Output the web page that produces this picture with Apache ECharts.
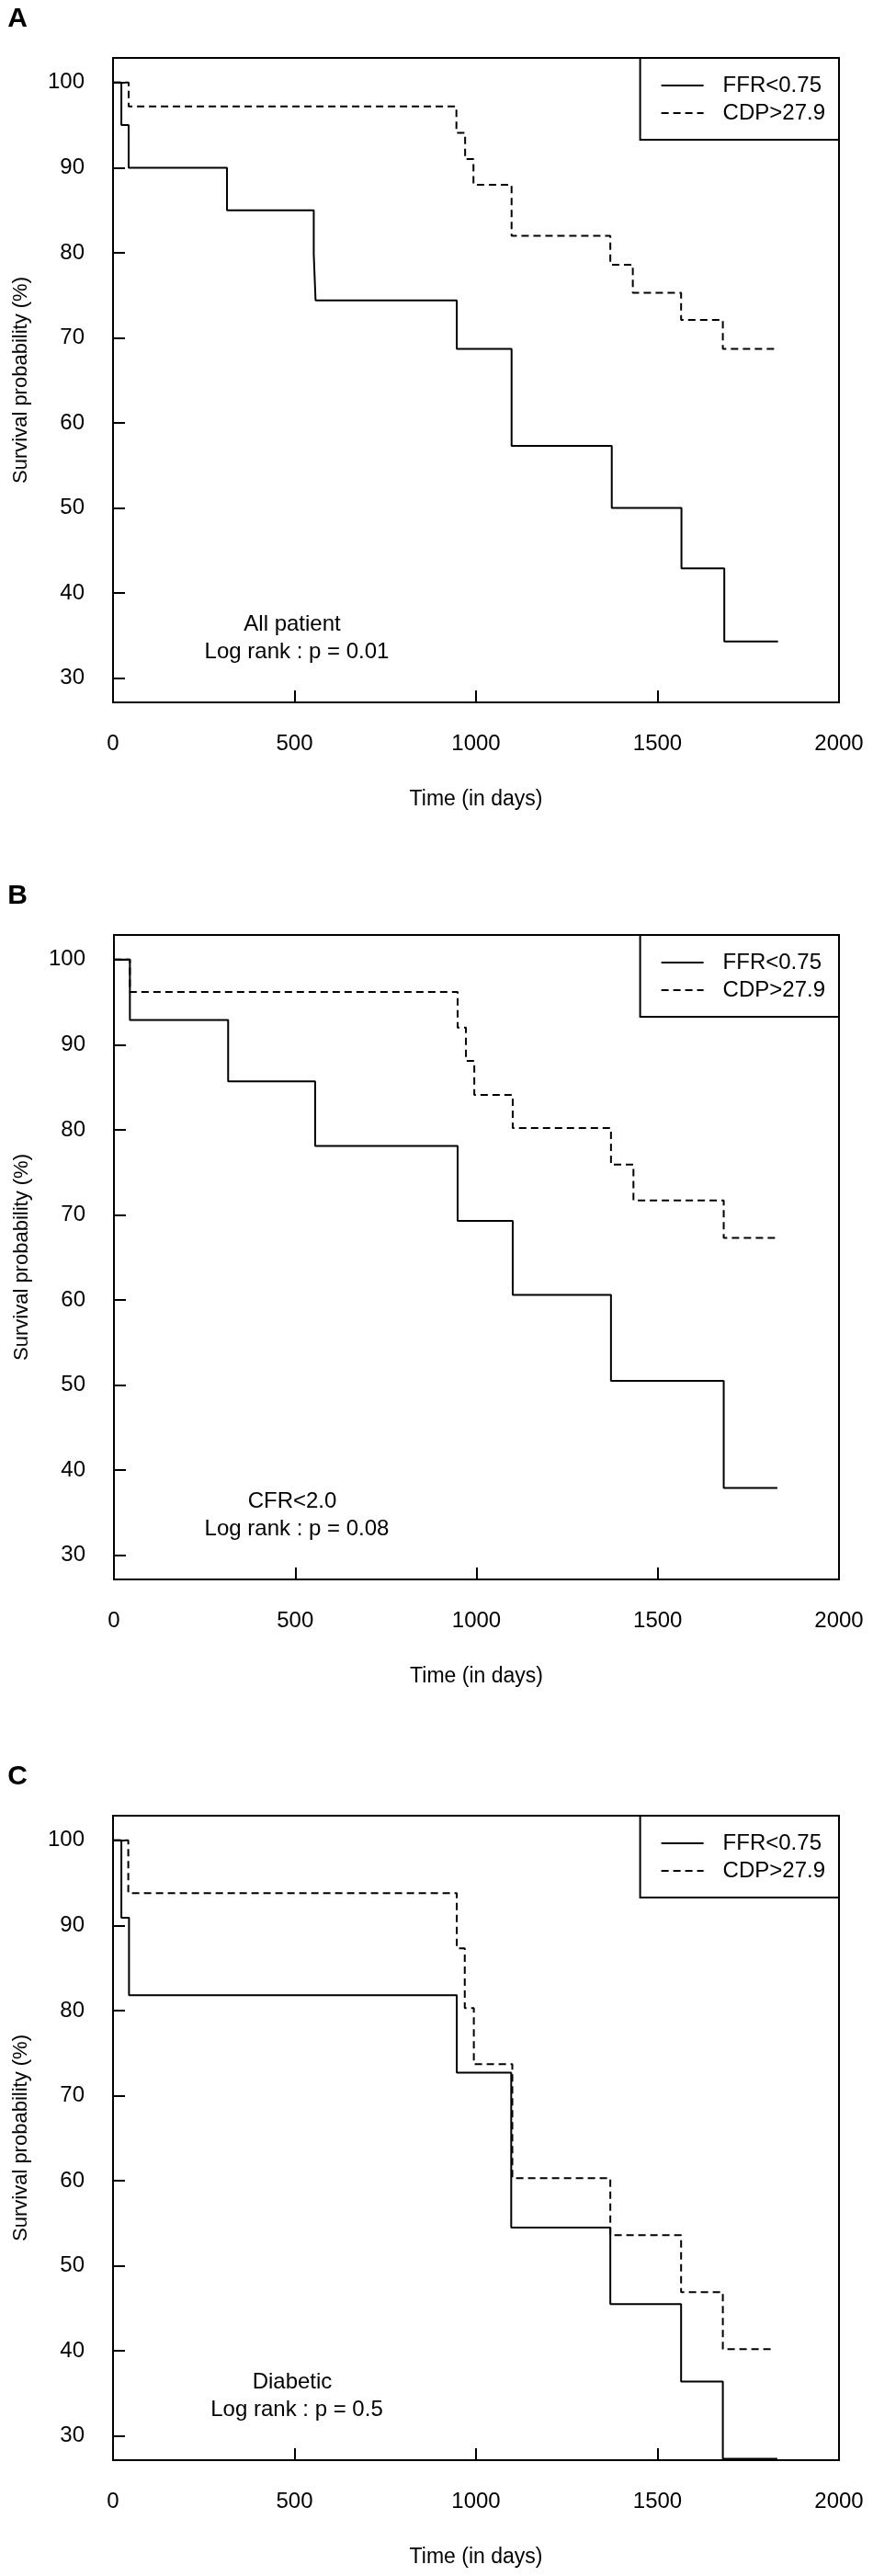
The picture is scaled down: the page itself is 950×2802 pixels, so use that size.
<!DOCTYPE html>
<html><head><meta charset="utf-8">
<script src="https://cdn.jsdelivr.net/npm/echarts@6/dist/echarts.min.js"></script>
<style>html,body{margin:0;padding:0;background:#fff}#c{width:950px;height:2802px}</style>
</head><body><div id="c"></div>
<script>
// ---- data ----
const xTicks = [0, 500, 1000, 1500, 2000];
const yTicks = [30, 40, 50, 60, 70, 80, 90, 100];
const seriesNames = ['FFR<0.75', 'CDP>27.9'];
const panelLabels = ['A', 'B', 'C'];
const panelNotes = [
  ['All patient', 'Log rank : p = 0.01'],
  ['CFR<2.0', 'Log rank : p = 0.08'],
  ['Diabetic', 'Log rank : p = 0.5']
];
const xTitle = 'Time (in days)';
const yTitle = 'Survival probability (%)';

// Panel A (All patient)
const aFfrDays = [0, 23, 43, 314, 553, 558, 947, 1098, 1374, 1566, 1684, 1832];
const aFfrSurv = [100, 95, 90, 85, 79.8, 74.4, 68.7, 57.3, 50, 42.9, 34.3, 34.3];
const aCdpDays = [0, 43, 946, 970, 993, 1098, 1370, 1432, 1565, 1680, 1830];
const aCdpSurv = [100, 97.2, 94.1, 91.0, 88.0, 82.0, 78.6, 75.3, 72.1, 68.7, 68.7];
// Panel B (CFR<2.0)
const bFfrDays = [0, 44, 315, 555, 948, 1100, 1371, 1682, 1830];
const bFfrSurv = [100, 92.9, 85.7, 78.1, 69.3, 60.6, 50.5, 37.9, 37.9];
const bCdpDays = [0, 44, 948, 971, 994, 1100, 1371, 1433, 1682, 1830];
const bCdpSurv = [100, 96.2, 92.0, 88.1, 84.1, 80.2, 75.9, 71.7, 67.3, 67.3];
// Panel C (Diabetic)
const cFfrDays = [0, 23, 44, 947, 1097, 1370, 1565, 1680, 1830];
const cFfrSurv = [100, 90.9, 81.8, 72.7, 54.5, 45.5, 36.4, 27.3, 27.3];
const cCdpDays = [0, 42, 947, 969, 994, 1100, 1370, 1565, 1680, 1818];
const cCdpSurv = [100, 93.8, 87.3, 80.3, 73.7, 60.3, 53.6, 46.9, 40.2, 40.2];

const panels = [
  [[aFfrDays, aFfrSurv], [aCdpDays, aCdpSurv]],
  [[bFfrDays, bFfrSurv], [bCdpDays, bCdpSurv]],
  [[cFfrDays, cFfrSurv], [cCdpDays, cCdpSurv]]
];

// ---- layout ----
const FONT = '"Liberation Sans", Arial, Helvetica, sans-serif';
const gridTops = [63, 1017, 1975];
const gridLefts = [123, 124, 123];
const gridH = 701;
const W = 950;
const plotRight = 913;

const zip = (xs, ys) => xs.map((x, i) => [x, ys[i]]);

const grids = [], xAxes = [], yAxes = [], series = [], legends = [], graphics = [];
panels.forEach((p, k) => {
  grids.push({
    left: gridLefts[k], top: gridTops[k], width: plotRight - gridLefts[k], height: gridH,
    show: true, borderColor: '#000', borderWidth: 2, backgroundColor: 'transparent'
  });
  xAxes.push({
    gridIndex: k, type: 'value', min: 0, max: 2000, interval: 500,
    axisLine: { show: true, onZero: false, lineStyle: { color: '#000', width: 2 } },
    axisTick: { show: true, inside: true, length: 13, lineStyle: { color: '#000', width: 2 } },
    axisLabel: { show: true, margin: 33, color: '#000', fontSize: 24, fontFamily: FONT,
      formatter: v => String(v) },
    splitLine: { show: false },
    name: xTitle, nameLocation: 'middle', nameGap: 94,
    nameTextStyle: { color: '#000', fontSize: 23, fontFamily: FONT }
  });
  yAxes.push({
    gridIndex: k, type: 'value', min: 27.15, max: 102.9,
    axisLine: { show: true, onZero: false, lineStyle: { color: '#000', width: 2 } },
    axisTick: { show: true, inside: true, length: 13, lineStyle: { color: '#000', width: 2 }, customValues: yTicks },
    axisLabel: { show: true, margin: 31, color: '#000', fontSize: 24, fontFamily: FONT, customValues: yTicks,
      formatter: v => String(v) },
    splitLine: { show: false },
    name: yTitle, nameLocation: 'middle', nameGap: 89, nameRotate: 90,
    nameTextStyle: { color: '#000', fontSize: 22, fontFamily: FONT }
  });
  p.forEach((s, j) => {
    series.push({
      name: seriesNames[j], type: 'line', step: 'end',
      xAxisIndex: k, yAxisIndex: k,
      data: zip(s[0], s[1]),
      symbol: 'none', showSymbol: false, silent: true,
      color: '#000',
      itemStyle: { color: '#000' },
      lineStyle: { color: '#000', width: 2, type: j === 0 ? 'solid' : [8, 5] },
      emphasis: { disabled: true }
    });
  });
  legends.push({
    data: seriesNames, orient: 'vertical',
    right: W - plotRight, top: gridTops[k],
    itemWidth: 46, itemHeight: 24, itemGap: 6,
    padding: [18, 15, 17, 22],
    borderColor: '#000', borderWidth: 2, backgroundColor: '#fff',
    selectedMode: false,
    itemStyle: { opacity: 0 },
    lineStyle: { color: '#000', width: 2 },
    textStyle: { color: '#000', fontSize: 24, fontFamily: FONT, padding: [0, 0, 0, 16] }
  });
  graphics.push({
    type: 'text', x: 19, y: gridTops[k] - 42,
    style: { text: panelLabels[k], font: 'bold 30px ' + FONT, fill: '#000',
      textAlign: 'center', textVerticalAlign: 'middle' }
  });
  graphics.push({
    type: 'text', x: 318, y: gridTops[k] + 616,
    style: { text: panelNotes[k][0], font: '24px ' + FONT, fill: '#000',
      textAlign: 'center', textVerticalAlign: 'middle' }
  });
  graphics.push({
    type: 'text', x: 323, y: gridTops[k] + 646,
    style: { text: panelNotes[k][1], font: '24px ' + FONT, fill: '#000',
      textAlign: 'center', textVerticalAlign: 'middle' }
  });
});

const chart = echarts.init(document.getElementById('c'), null, { renderer: 'canvas' });
chart.setOption({
  animation: false,
  backgroundColor: '#fff',
  grid: grids, xAxis: xAxes, yAxis: yAxes, series: series,
  legend: legends, graphic: graphics
});
</script></body></html>
